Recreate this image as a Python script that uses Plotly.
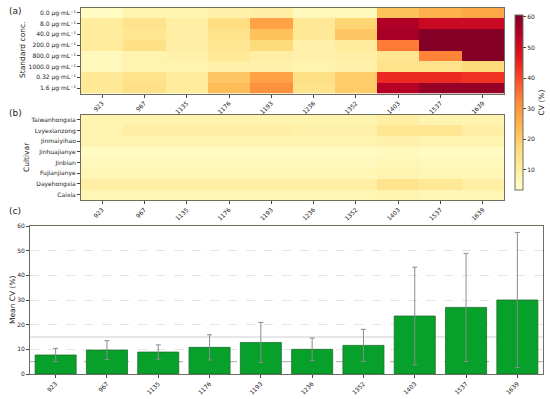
import plotly.graph_objects as go

wavenumbers = ["923", "967", "1135", "1176", "1193", "1236", "1352", "1403", "1537", "1639"]

conc_labels = ["0.0 µg·mL⁻¹", "8.0 µg·mL⁻¹", "40.0 µg·mL⁻¹", "200.0 µg·mL⁻¹",
               "800.0 µg·mL⁻¹", "1000.0 µg·mL⁻¹", "0.32 µg·mL⁻¹", "1.6 µg·mL⁻¹"]
conc_cv = [
    [5, 8, 8, 9, 10, 6, 6, 22, 25, 27],
    [11, 14, 10, 16, 28, 12, 18, 55, 51, 51],
    [11, 13, 10, 14, 22, 12, 21, 56, 60, 60],
    [11, 15, 10, 13, 17, 9, 11, 34, 60, 60],
    [6, 8, 9, 12, 10, 9, 10, 13, 33, 60],
    [6, 8, 8, 9, 9, 8, 9, 14, 14, 17],
    [12, 14, 11, 21, 28, 15, 20, 44, 44, 43],
    [12, 15, 11, 23, 31, 14, 20, 54, 58, 58],
]

cultivars = ["Taiwanhongxia", "Lvyexianzong", "Jinmaiyihao", "Jinhuajianye",
             "Jinbian", "Fujianjianye", "Dayehongxia", "Caixia"]
cultivar_cv = [
    [8, 8, 8, 8, 8, 8, 8, 10, 8, 8],
    [8, 10, 10, 10, 10, 9, 9, 13, 13, 10],
    [8, 8, 8, 8, 8, 8, 8, 9, 8, 8],
    [5, 5, 5, 5, 5, 5, 5, 6, 5, 5],
    [6, 6, 6, 6, 6, 6, 6, 7, 6, 6],
    [7, 7, 7, 7, 7, 7, 7, 8, 7, 7],
    [10, 10, 10, 10, 10, 10, 10, 14, 12, 10],
    [7, 7, 7, 7, 7, 7, 7, 8, 7, 7],
]

mean_cv = [7.7, 9.7, 8.9, 10.8, 12.8, 10.0, 11.6, 23.5, 27.0, 30.0]
std_cv = [2.7, 3.8, 2.9, 5.1, 8.1, 4.6, 6.5, 19.8, 21.9, 27.4]

ref_lines = [15, 5]

FONT = "DejaVu Sans"
W, H = 550, 399

def px_x(x):
    return x / W

def px_y(y):
    return 1 - y / H

fig = go.Figure()

fig.add_trace(go.Heatmap(z=conc_cv, x=wavenumbers, y=conc_labels, coloraxis="coloraxis",
                         xaxis="x", yaxis="y"))
fig.add_trace(go.Heatmap(z=cultivar_cv, x=wavenumbers, y=cultivars, coloraxis="coloraxis",
                         xaxis="x2", yaxis="y2"))
fig.add_trace(go.Bar(x=wavenumbers, y=mean_cv, xaxis="x3", yaxis="y3", width=0.8,
                     marker=dict(color="#06a02b", line=dict(color="#1d6e2c", width=0.8)),
                     error_y=dict(type="data", array=std_cv, color="#8c8c8c", thickness=1, width=2.5)))

tickfont = dict(family=FONT, size=6, color="#222")
frame = dict(showline=True, linecolor="#6e6e5e", linewidth=1, mirror=True, automargin=False,
             ticks="outside", ticklen=3, tickcolor="#444", tickfont=tickfont)
title_font = dict(family=FONT, size=7.5, color="#222")

hm_x = [px_x(81), px_x(504)]
fig.update_layout(
    width=W, height=H, margin=dict(l=0, r=0, t=0, b=0, autoexpand=False),
    paper_bgcolor="white", plot_bgcolor="white", showlegend=False,
    font=dict(family=FONT, size=7, color="#222"),
    coloraxis=dict(
        colorscale="YlOrRd", cmin=3.4, cmax=60.6,
        colorbar=dict(x=px_x(515), xanchor="left", y=px_y(102.5), yanchor="middle",
                      len=(190 - 15) / H, lenmode="fraction", thickness=8, thicknessmode="pixels",
                      outlinewidth=1, outlinecolor="#6e6e5e", xpad=0, ypad=0,
                      tickvals=[10, 20, 30, 40, 50, 60], ticks="outside", ticklen=3,
                      tickfont=tickfont,
                      title=dict(text="CV (%)", side="right", font=title_font)),
    ),
    xaxis=dict(domain=hm_x, anchor="y", type="category", tickangle=-45, **frame),
    yaxis=dict(domain=[px_y(93.5), px_y(7.5)], anchor="x", type="category", autorange="reversed", **frame),
    xaxis2=dict(domain=hm_x, anchor="y2", type="category", tickangle=-45, **frame),
    yaxis2=dict(domain=[px_y(200), px_y(114.5)], anchor="x2", type="category", autorange="reversed", **frame),
    xaxis3=dict(domain=[px_x(30), px_x(543)], anchor="y3", type="category", tickangle=-45,
                range=[-0.5, 9.5], **frame),
    yaxis3=dict(domain=[px_y(374), px_y(226)], anchor="x3", range=[0, 60], dtick=10,
                showgrid=True, gridcolor="#e4e4e4", griddash="dash", gridwidth=0.8, zeroline=False,
                **frame),
)

styles = [dict(color="#cfcfcf", width=1), dict(color="#a8a8a8", width=1, dash="dash")]
for yv, st in zip(ref_lines, styles):
    fig.add_shape(type="line", xref="x3 domain", yref="y3", x0=0, x1=1, y0=yv, y1=yv,
                  line=st, layer="below")

for label, y in [("(a)", 11), ("(b)", 113), ("(c)", 211)]:
    fig.add_annotation(text=label, x=px_x(7), y=px_y(y), xref="paper", yref="paper",
                       xanchor="left", yanchor="middle", showarrow=False,
                       font=dict(family=FONT, size=9, color="#222"))

for label, x, y in [("Standard conc.", 22, 50), ("Cultivar", 27, 157), ("Mean CV (%)", 12, 300)]:
    fig.add_annotation(text=label, x=px_x(x), y=px_y(y), xref="paper", yref="paper",
                       xanchor="center", yanchor="middle", showarrow=False, textangle=-90,
                       font=title_font)

fig.write_html("out.html", config={"displayModeBar": False},
               post_script="document.body.style.margin='0px';document.body.style.overflow='hidden';")
